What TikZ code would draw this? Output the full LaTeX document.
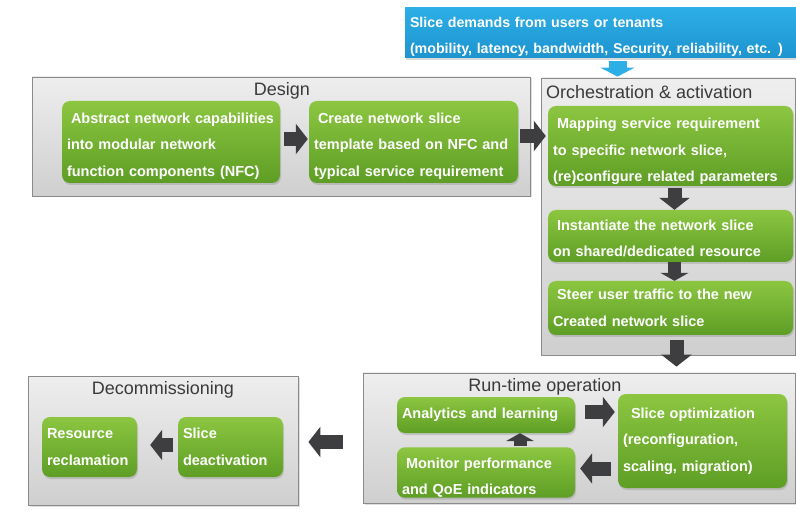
\documentclass[tikz,border=0pt]{standalone}
\usepackage{fontspec}
\setmainfont{Liberation Sans}
\usetikzlibrary{arrows.meta,shadows,calc}

\definecolor{gtop}{HTML}{8CC641}
\definecolor{gbot}{HTML}{5E9E25}
\definecolor{arrowgray}{HTML}{3E3E41}
\definecolor{paneltop}{HTML}{EEEEEE}
\definecolor{panelbot}{HTML}{CFCFCF}
\definecolor{panelline}{HTML}{8A8A8A}
\definecolor{demandtop}{HTML}{2DAEE6}
\definecolor{demandbot}{HTML}{1E94CF}
\definecolor{titlegray}{HTML}{3A3A3A}

% invisible strut that pushes a text block down inside its box
\newcommand\textdrop[1]{\rule{0pt}{#1}}

\tikzset{
  panel/.style={draw=panelline, line width=0.8pt, top color=paneltop, bottom color=panelbot,
    drop shadow={opacity=0.25, shadow xshift=1.5pt, shadow yshift=-1.5pt}},
  paneltitle/.style={font=\fontsize{18}{20}\selectfont, text=titlegray, inner sep=0pt},
  task/.style={rounded corners=8pt, top color=gtop, bottom color=gbot, text=white,
    font=\bfseries\fontsize{14.5}{26.5}\selectfont, align=left, inner xsep=5pt, inner ysep=0pt,
    drop shadow={opacity=0.3, shadow xshift=1pt, shadow yshift=-2pt}},
  boxsize/.style n args={3}{minimum width=#1, minimum height=#2, text width=#3},
  demand/.style={top color=demandtop, bottom color=demandbot, text=white,
    font=\bfseries\fontsize{14.2}{26}\selectfont, align=left, inner xsep=5pt, inner ysep=0pt,
    drop shadow={opacity=0.3, shadow xshift=1pt, shadow yshift=-2pt}},
  flow/.style={draw=arrowgray, line width=14pt, -{Triangle[length=12pt,width=30pt]}},
  smallflow/.style={draw=arrowgray, line width=13pt, -{Triangle[length=8pt,width=28pt]}},
  demandflow/.style={draw=demandtop, line width=18pt, -{Triangle[length=9pt,width=34pt]}},
}

\begin{document}
\begin{tikzpicture}[x=1pt, y=-1pt]
  \useasboundingbox (0,0) rectangle (796,513);

  % phase panels
  \node[panel, minimum width=498pt, minimum height=119pt] (design) at (281,136.5) {};
  \node[panel, minimum width=254pt, minimum height=277pt] (orch) at (668,216.5) {};
  \node[panel, minimum width=432pt, minimum height=130pt] (run) at (579,438) {};
  \node[panel, minimum width=270pt, minimum height=129pt] (decom) at (163,440.5) {};

  \node[paneltitle] (designtitle) at (282,91) {Design};
  \node[paneltitle, anchor=west] (orchtitle) at (546,92) {Orchestration \& activation};
  \node[paneltitle] (runtitle) at (545,387) {Run-time operation};
  \node[paneltitle] (dectitle) at (163,390) {Decommissioning};

  % slice demands
  \node[demand, boxsize={391pt}{50pt}{381pt}] (demands) at (600.5,33)
    {\textdrop{17.5pt}Slice demands from users or tenants\\(mobility, latency, bandwidth, Security, reliability, etc. )};

  % design steps
  \node[task, boxsize={218pt}{82pt}{208pt}] (d1) at (171,142)
    {\textdrop{19pt}\hspace*{4pt}Abstract network capabilities\\into modular network\\function components (NFC)};
  \node[task, boxsize={209pt}{82pt}{199pt}] (d2) at (413.5,142)
    {\textdrop{19pt}\hspace*{4pt}Create network slice\\template based on NFC and\\typical service requirement};

  % orchestration steps
  \node[task, boxsize={245pt}{80pt}{235pt}] (o1) at (670.5,146)
    {\textdrop{21.5pt}\hspace*{4pt}Mapping service requirement\\to specific network slice,\\(re)configure related parameters};
  \node[task, boxsize={245pt}{52pt}{235pt}] (o2) at (670.5,236)
    {\textdrop{15.5pt}\hspace*{4pt}Instantiate the network slice\\on shared/dedicated resource};
  \node[task, boxsize={245pt}{54pt}{235pt}] (o3) at (670.5,308)
    {\hspace*{4pt}Steer user traffic to the new\\Created network slice};

  % run-time steps
  \node[task, boxsize={178pt}{36pt}{168pt}] (a1) at (486,415)
    {Analytics and learning};
  \node[task, boxsize={169pt}{94pt}{159pt}] (a2) at (702.5,441)
    {\hspace*{8pt}Slice optimization\\(reconfiguration,\\scaling, migration)};
  \node[task, boxsize={178pt}{49pt}{168pt}] (a3) at (486,472.5)
    {\textdrop{21pt}\hspace*{4pt}Monitor performance\\and QoE indicators};

  % decommissioning steps
  \node[task, boxsize={95pt}{60pt}{85pt}] (c1) at (89.5,447)
    {Resource\\reclamation};
  \node[task, boxsize={105pt}{60pt}{95pt}] (c2) at (230.5,447)
    {Slice\\deactivation};

  % connectors
  \draw[demandflow, shorten <=3pt, shorten >=1pt] ([xshift=17pt]demands.south) -- ([xshift=17pt]demands.south |- orch.north);
  \draw[flow, shorten <=4pt, shorten >=1pt] ([yshift=3pt]d1.east) -- ([yshift=3pt]d2.west);
  \draw[flow, shorten <=2pt, shorten >=2pt] ([yshift=6pt]d2.east) -- ([yshift=6pt]d2.east -| o1.west);
  \draw[flow, shorten <=2pt] ([xshift=4pt]o1.south) -- ([xshift=4pt]o2.north);
  \draw[smallflow] ([xshift=4pt]o2.south) -- ([xshift=4pt]o3.north);
  \draw[flow, shorten <=5pt, shorten >=6pt] ([xshift=6pt]o3.south) -- ([xshift=6pt]o3.south |- run.north);
  \draw[flow, shorten <=10pt, shorten >=3pt] ([yshift=3pt]a1.east) -- ([yshift=3pt]a1.east -| a2.west);
  \draw[flow, shorten <=7pt, shorten >=5pt] ([yshift=4pt]a3.east -| a2.west) -- ([yshift=4pt]a3.east);
  \draw[smallflow, shorten <=1pt] ([xshift=34pt]a3.north) -- ([xshift=34pt]a1.south);
  \draw[flow, shorten <=20pt, shorten >=10pt] ([yshift=-4pt]run.west) -- ([yshift=-4pt]run.west -| decom.east);
  \draw[flow, shorten <=5pt, shorten >=13pt] ([yshift=2pt]c2.west) -- ([yshift=2pt]c2.west -| c1.east);
\end{tikzpicture}
\end{document}
